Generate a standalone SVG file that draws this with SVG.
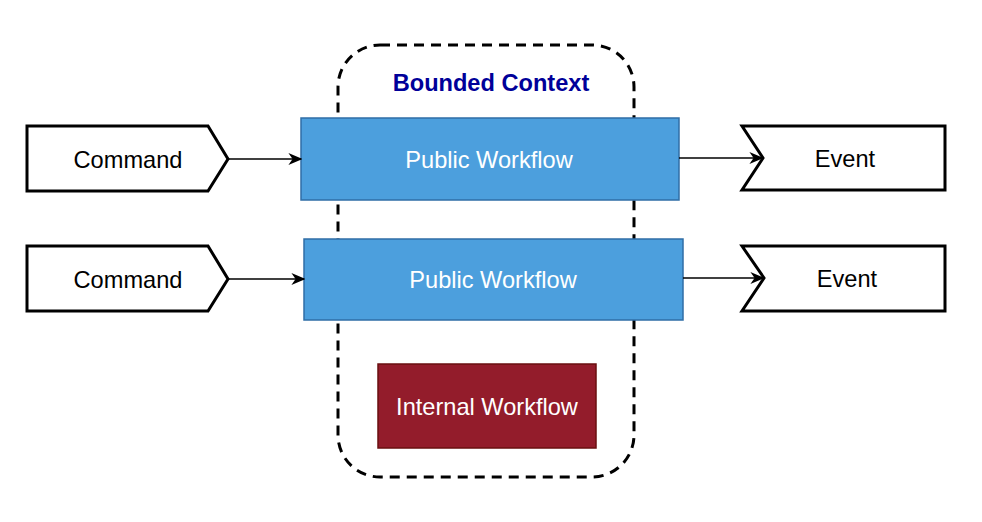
<svg xmlns="http://www.w3.org/2000/svg" width="982" height="522" viewBox="0 0 982 522">
<defs>
<style>
.lbl{font-family:"Liberation Sans",Arial,Helvetica,sans-serif;font-size:23.6px;text-anchor:middle;dominant-baseline:central}
.io{fill:#fff;stroke:#000;stroke-width:3;stroke-linejoin:miter}
.pub{fill:#4C9FDD;stroke:#2F6EA6;stroke-width:1.5}
.edge{fill:none;stroke:#000;stroke-width:1.5}
</style>
<marker id="arr" viewBox="0 0 10 10" refX="9" refY="5" markerWidth="14" markerHeight="12" markerUnits="userSpaceOnUse" orient="auto" preserveAspectRatio="none">
<path d="M0,0 L10,5 L0,10 L3,5 Z" fill="#000"/>
</marker>
</defs>
<rect width="982" height="522" fill="#fff"/>
<g id="bounded-context">
<rect x="338" y="45" width="296" height="432" rx="42" ry="42" fill="none" stroke="#000" stroke-width="3" stroke-dasharray="10 7"/>
<text x="491" y="83" class="lbl" style="font-weight:bold;fill:#000099">Bounded Context</text>
</g>
<g id="command1">
<path class="io" d="M27,126 L208,126 L228,159 L208,191 L27,191 Z"/>
<text x="128" y="160" class="lbl">Command</text>
</g>
<g id="command2">
<path class="io" d="M27,246 L208,246 L228,279 L208,311 L27,311 Z"/>
<text x="128" y="280" class="lbl">Command</text>
</g>
<g id="public1">
<rect class="pub" x="301" y="118" width="378" height="82"/>
<text x="489" y="160" class="lbl" fill="#fff">Public Workflow</text>
</g>
<g id="public2">
<rect class="pub" x="304" y="239" width="379" height="81"/>
<text x="493" y="280" class="lbl" fill="#fff">Public Workflow</text>
</g>
<g id="event1">
<path class="io" d="M742,126 L945,126 L945,190 L742,190 L763,158 Z"/>
<text x="845" y="159" class="lbl">Event</text>
</g>
<g id="event2">
<path class="io" d="M742,246 L945,246 L945,311 L742,311 L764,278 Z"/>
<text x="847" y="279" class="lbl">Event</text>
</g>
<g id="internal">
<rect x="378" y="364" width="218" height="84" fill="#931C2B" stroke="#6A0F10" stroke-width="1.5"/>
<text x="487" y="407" class="lbl" fill="#fff">Internal Workflow</text>
</g>
<g id="connectors">
<line class="edge" x1="229" y1="159" x2="301" y2="159" marker-end="url(#arr)"/>
<line class="edge" x1="229" y1="279" x2="304" y2="279" marker-end="url(#arr)"/>
<line class="edge" x1="679" y1="158" x2="762" y2="158" marker-end="url(#arr)"/>
<line class="edge" x1="683" y1="278" x2="763" y2="278" marker-end="url(#arr)"/>
</g>
</svg>
